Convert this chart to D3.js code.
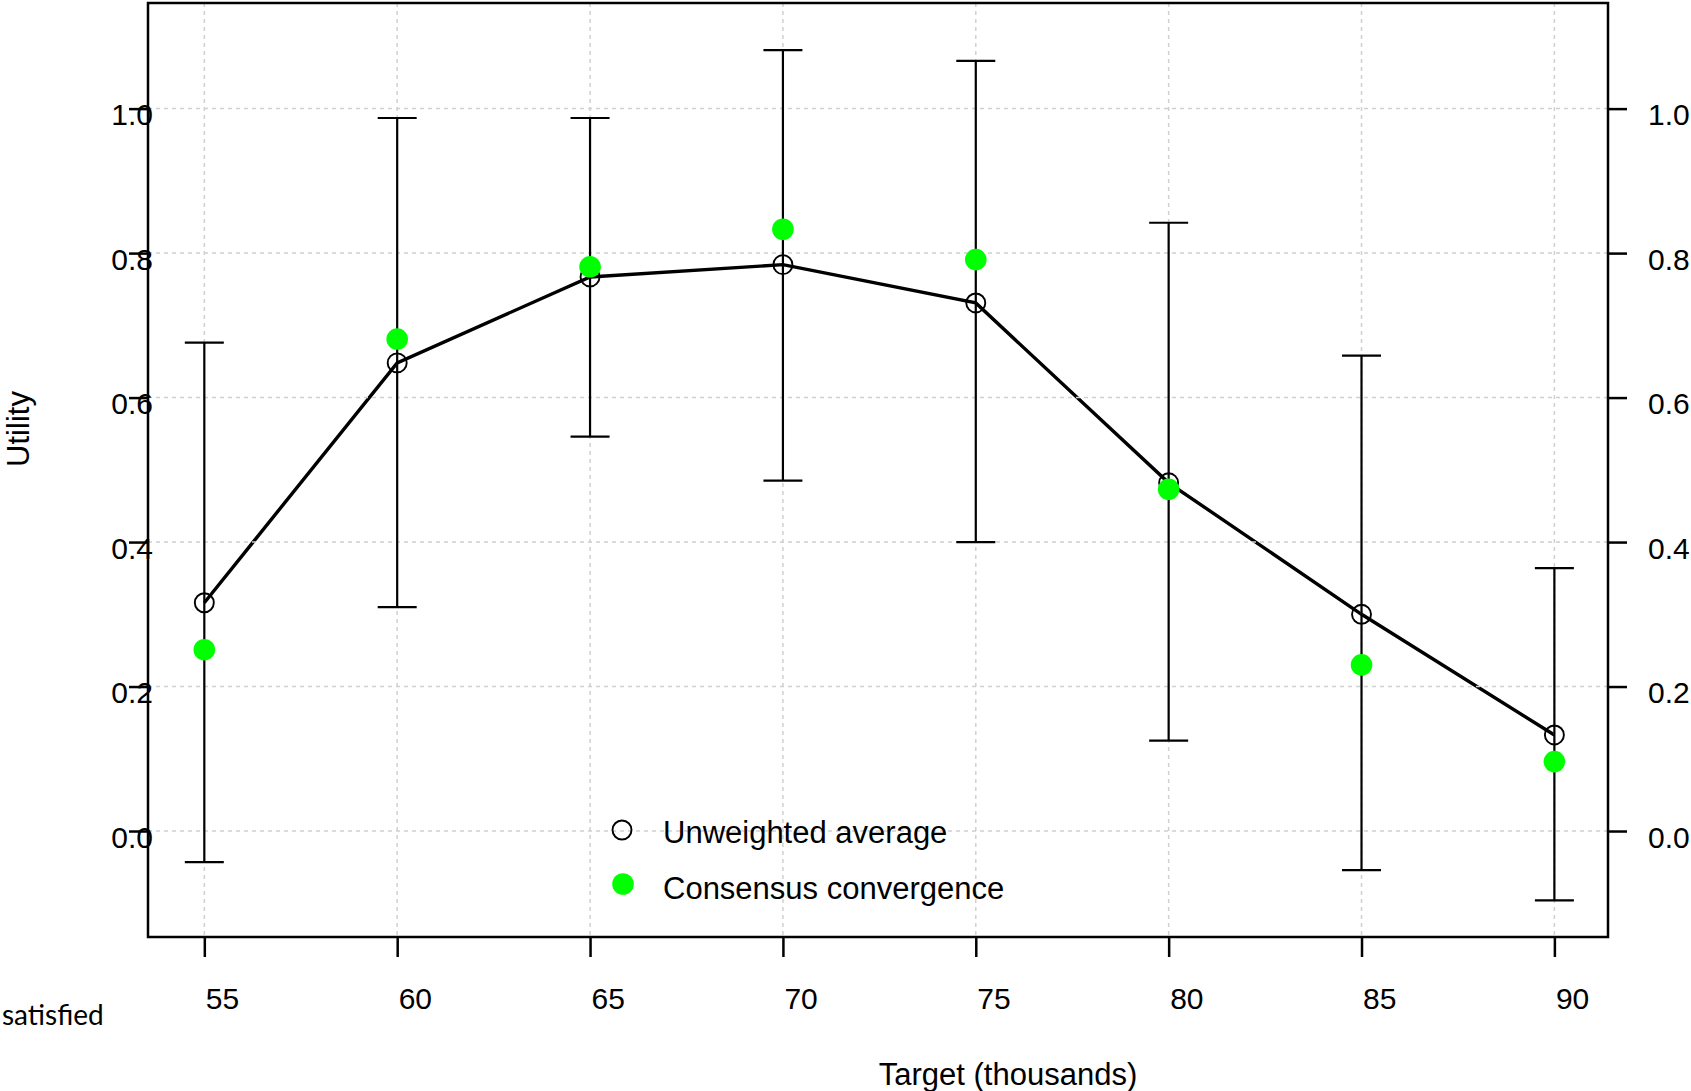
<!DOCTYPE html>
<html>
<head>
<meta charset="utf-8">
<script src="https://cdn.jsdelivr.net/npm/d3@7"></script>
<style>
  body { margin: 0; background: #fff; }
  text { fill: #000; }
</style>
</head>
<body>
<svg id="chart" width="1691" height="1091"></svg>
<script>
// values
let targets   = [55, 60, 65, 70, 75, 80, 85, 90];
let unweighted = [0.316, 0.648, 0.767, 0.784, 0.731, 0.482, 0.300, 0.133];
let consensus  = [0.251, 0.681, 0.781, 0.833, 0.791, 0.473, 0.230, 0.096];
let errUpper   = [0.676, 0.987, 0.987, 1.081, 1.066, 0.842, 0.658, 0.364];
let errLower   = [-0.043, 0.310, 0.546, 0.485, 0.400, 0.125, -0.054, -0.096];
let yTicks = [0.0, 0.2, 0.4, 0.6, 0.8, 1.0];
let legendLabels = ["Unweighted average", "Consensus convergence"];

let boxL = 148, boxR = 1608, boxT = 3, boxB = 937;
let sans = "'Liberation Sans', Arial, sans-serif";

let svg = d3.select("#chart");

let x = d3.scaleLinear().domain([53.54, 91.39]).range([boxL, boxR]);
let y = d3.scaleLinear().domain([-0.1467, 1.1462]).range([boxB, boxT]);

// line first (grid goes over it, like the original)
let line = d3.line().x((d, i) => x(targets[i])).y(d => y(d));
svg.append("path")
    .datum(unweighted)
    .attr("d", line)
    .attr("fill", "none")
    .attr("stroke", "#000")
    .attr("stroke-width", 3.4);

// grid
let grid = svg.append("g").attr("stroke", "#d0d0d0").attr("stroke-width", 1.5).attr("stroke-dasharray", "4,4");
grid.selectAll(".gx").data(targets).enter().append("line")
    .attr("x1", d => x(d)).attr("x2", d => x(d))
    .attr("y1", boxT).attr("y2", boxB);
grid.selectAll(".gy").data(yTicks).enter().append("line")
    .attr("x1", boxL).attr("x2", boxR)
    .attr("y1", d => y(d)).attr("y2", d => y(d));

// error bars
let capW = 19.5;
let err = svg.append("g").attr("stroke", "#000").attr("stroke-width", 2.2);
targets.forEach((t, i) => {
  err.append("line").attr("x1", x(t)).attr("x2", x(t)).attr("y1", y(errLower[i])).attr("y2", y(errUpper[i]));
  err.append("line").attr("x1", x(t) - capW).attr("x2", x(t) + capW).attr("y1", y(errUpper[i])).attr("y2", y(errUpper[i]));
  err.append("line").attr("x1", x(t) - capW).attr("x2", x(t) + capW).attr("y1", y(errLower[i])).attr("y2", y(errLower[i]));
});

// points
svg.selectAll(".open").data(unweighted).enter().append("circle")
    .attr("cx", (d, i) => x(targets[i]))
    .attr("cy", d => y(d))
    .attr("r", 9.5)
    .attr("fill", "none")
    .attr("stroke", "#000")
    .attr("stroke-width", 1.9);
svg.selectAll(".green").data(consensus).enter().append("circle")
    .attr("cx", (d, i) => x(targets[i]))
    .attr("cy", d => y(d))
    .attr("r", 10.8)
    .attr("fill", "#00ff00");

// box
svg.append("rect")
    .attr("x", boxL).attr("y", boxT)
    .attr("width", boxR - boxL).attr("height", boxB - boxT)
    .attr("fill", "none").attr("stroke", "#000").attr("stroke-width", 2.5);

// axes
let xAxis = svg.append("g")
    .attr("transform", "translate(0," + boxB + ")")
    .call(d3.axisBottom(x).tickValues(targets).tickSize(20).tickSizeOuter(0));
xAxis.select(".domain").remove();
xAxis.selectAll(".tick line").attr("stroke-width", 2.5);
xAxis.selectAll(".tick text")
    .style("font-size", "30px").style("font-family", sans)
    .attr("text-anchor", "start").attr("x", 1).attr("y", 72).attr("dy", null);

let yLeft = svg.append("g")
    .attr("transform", "translate(" + boxL + ",0)")
    .call(d3.axisLeft(y).tickValues(yTicks).tickFormat(d3.format(".1f")).tickSize(19).tickSizeOuter(0));
yLeft.select(".domain").remove();
yLeft.selectAll(".tick line").attr("stroke-width", 2.5);
yLeft.selectAll(".tick text")
    .style("font-size", "30px").style("font-family", sans)
    .attr("text-anchor", "end").attr("x", 5).attr("y", 16).attr("dy", null);

let yRight = svg.append("g")
    .attr("transform", "translate(" + boxR + ",0)")
    .call(d3.axisRight(y).tickValues(yTicks).tickFormat(d3.format(".1f")).tickSize(19).tickSizeOuter(0));
yRight.select(".domain").remove();
yRight.selectAll(".tick line").attr("stroke-width", 2.5);
yRight.selectAll(".tick text")
    .style("font-size", "30px").style("font-family", sans)
    .attr("text-anchor", "start").attr("x", 40).attr("y", 16).attr("dy", null);

// titles
svg.append("text")
    .attr("x", 1008).attr("y", 1085)
    .attr("text-anchor", "middle")
    .style("font-family", sans).style("font-size", "31px")
    .text("Target (thousands)");
svg.append("text")
    .attr("transform", "translate(29,429) rotate(-90)")
    .attr("text-anchor", "middle")
    .style("font-family", sans).style("font-size", "31px")
    .text("Utility");
svg.append("text")
    .attr("x", 2).attr("y", 1025)
    .style("font-family", "Lato, 'Open Sans', sans-serif")
    .style("font-size", "28px")
    .text("satisfied");

// legend
let lg = svg.append("g");
lg.append("circle").attr("cx", 622).attr("cy", 830).attr("r", 9.5)
    .attr("fill", "none").attr("stroke", "#000").attr("stroke-width", 1.9);
lg.append("circle").attr("cx", 623).attr("cy", 884).attr("r", 10.8).attr("fill", "#00ff00");
lg.selectAll(".lt").data(legendLabels).enter().append("text")
    .attr("x", 663)
    .attr("y", (d, i) => 843 + i * 55.5)
    .style("font-family", sans).style("font-size", "31px")
    .text(d => d);
</script>
</body>
</html>
